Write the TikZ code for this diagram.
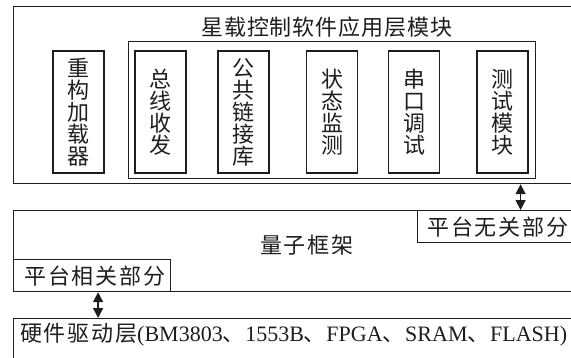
\documentclass[tikz,border=0pt]{standalone}
\usepackage{fontspec}
\setmainfont{Liberation Serif}
\newfontfamily\cjk{Noto Sans CJK SC}
\newfontfamily\cjkt[LetterSpace=4.5]{Noto Sans CJK SC}
\newfontfamily\cjkw[LetterSpace=9]{Noto Sans CJK SC}
\newfontfamily\cjkh[LetterSpace=8]{Noto Sans CJK SC}
\usetikzlibrary{arrows.meta}
\definecolor{ink}{HTML}{1E1E1E}
\tikzset{
  box/.style={draw=ink, line width=1.2pt, rectangle, inner sep=0pt},
  modbox/.style={box, minimum width=51pt, minimum height=122pt, align=center,
    font=\cjk\fontsize{22}{22}\selectfont, text=ink},
  lbl/.style={inner sep=0pt, text=ink},
  dbl/.style={draw=ink, line width=1.4pt, {Triangle[length=10pt,width=10pt]}-{Triangle[length=10pt,width=10pt]}}
}
\newcommand{\dun}{{\cjk 、}\hspace{0.5pt}}
\begin{document}
\begin{tikzpicture}[x=1pt,y=-1pt]
\useasboundingbox (0,0) rectangle (571,357);
\clip (0,0) rectangle (571,357);
% application layer
\node[box, anchor=north west, minimum width=600pt, minimum height=177pt] (app) at (13,6) {};
\node[lbl, font=\cjkt\fontsize{22}{24}\selectfont] (title) at (327,27) {星载控制软件应用层模块};
\node[box, anchor=north west, minimum width=407pt, minimum height=137pt] (inner) at (128,41) {};
\node[modbox] (reload) at (78.5,112) {重\\构\\加\\载\\器};
\node[modbox] (bus) at (160.5,112) {总\\线\\收\\发};
\node[modbox] (lib) at (243.5,112) {公\\共\\链\\接\\库};
\node[modbox] (state) at (332,112) {状\\态\\监\\测};
\node[modbox] (serial) at (414,112) {串\\口\\调\\试};
\node[modbox] (test) at (502.5,112) {测\\试\\模\\块};
% quantum framework
\node[box, anchor=north west, minimum width=600pt, minimum height=81pt] (frame) at (13,210) {};
\node[lbl, font=\cjkw\fontsize{22}{24}\selectfont] (framelbl) at (307,245) {量子框架};
\node[box, anchor=north west, minimum width=200pt, minimum height=32pt] (indep) at (417,210) {};
\node[lbl, font=\cjkw\fontsize{22}{24}\selectfont] (indeplbl) at (498,227) {平台无关部分};
\node[box, anchor=north west, minimum width=157pt, minimum height=32pt] (dep) at (13,259) {};
\node[lbl, font=\cjkw\fontsize{22}{24}\selectfont] (deplbl) at (95,276) {平台相关部分};
% hardware
\node[box, anchor=north west, minimum width=600pt, minimum height=80pt] (hw) at (13,318) {};
\node[lbl, anchor=west, font=\fontsize{22}{24}\selectfont] (hwlbl) at (20,335)
  {{\cjkh 硬件驱动层}(BM3803\dun 1553B\dun FPGA\dun SRAM\dun FLASH)};
% connectors
\coordinate (a1) at ([xshift=3pt]indep.north);
\draw[dbl] (a1) -- (a1 |- app.south);
\coordinate (a2) at ([xshift=6pt]dep.south);
\draw[dbl] (a2) -- (a2 |- hw.north);
\end{tikzpicture}
\end{document}
